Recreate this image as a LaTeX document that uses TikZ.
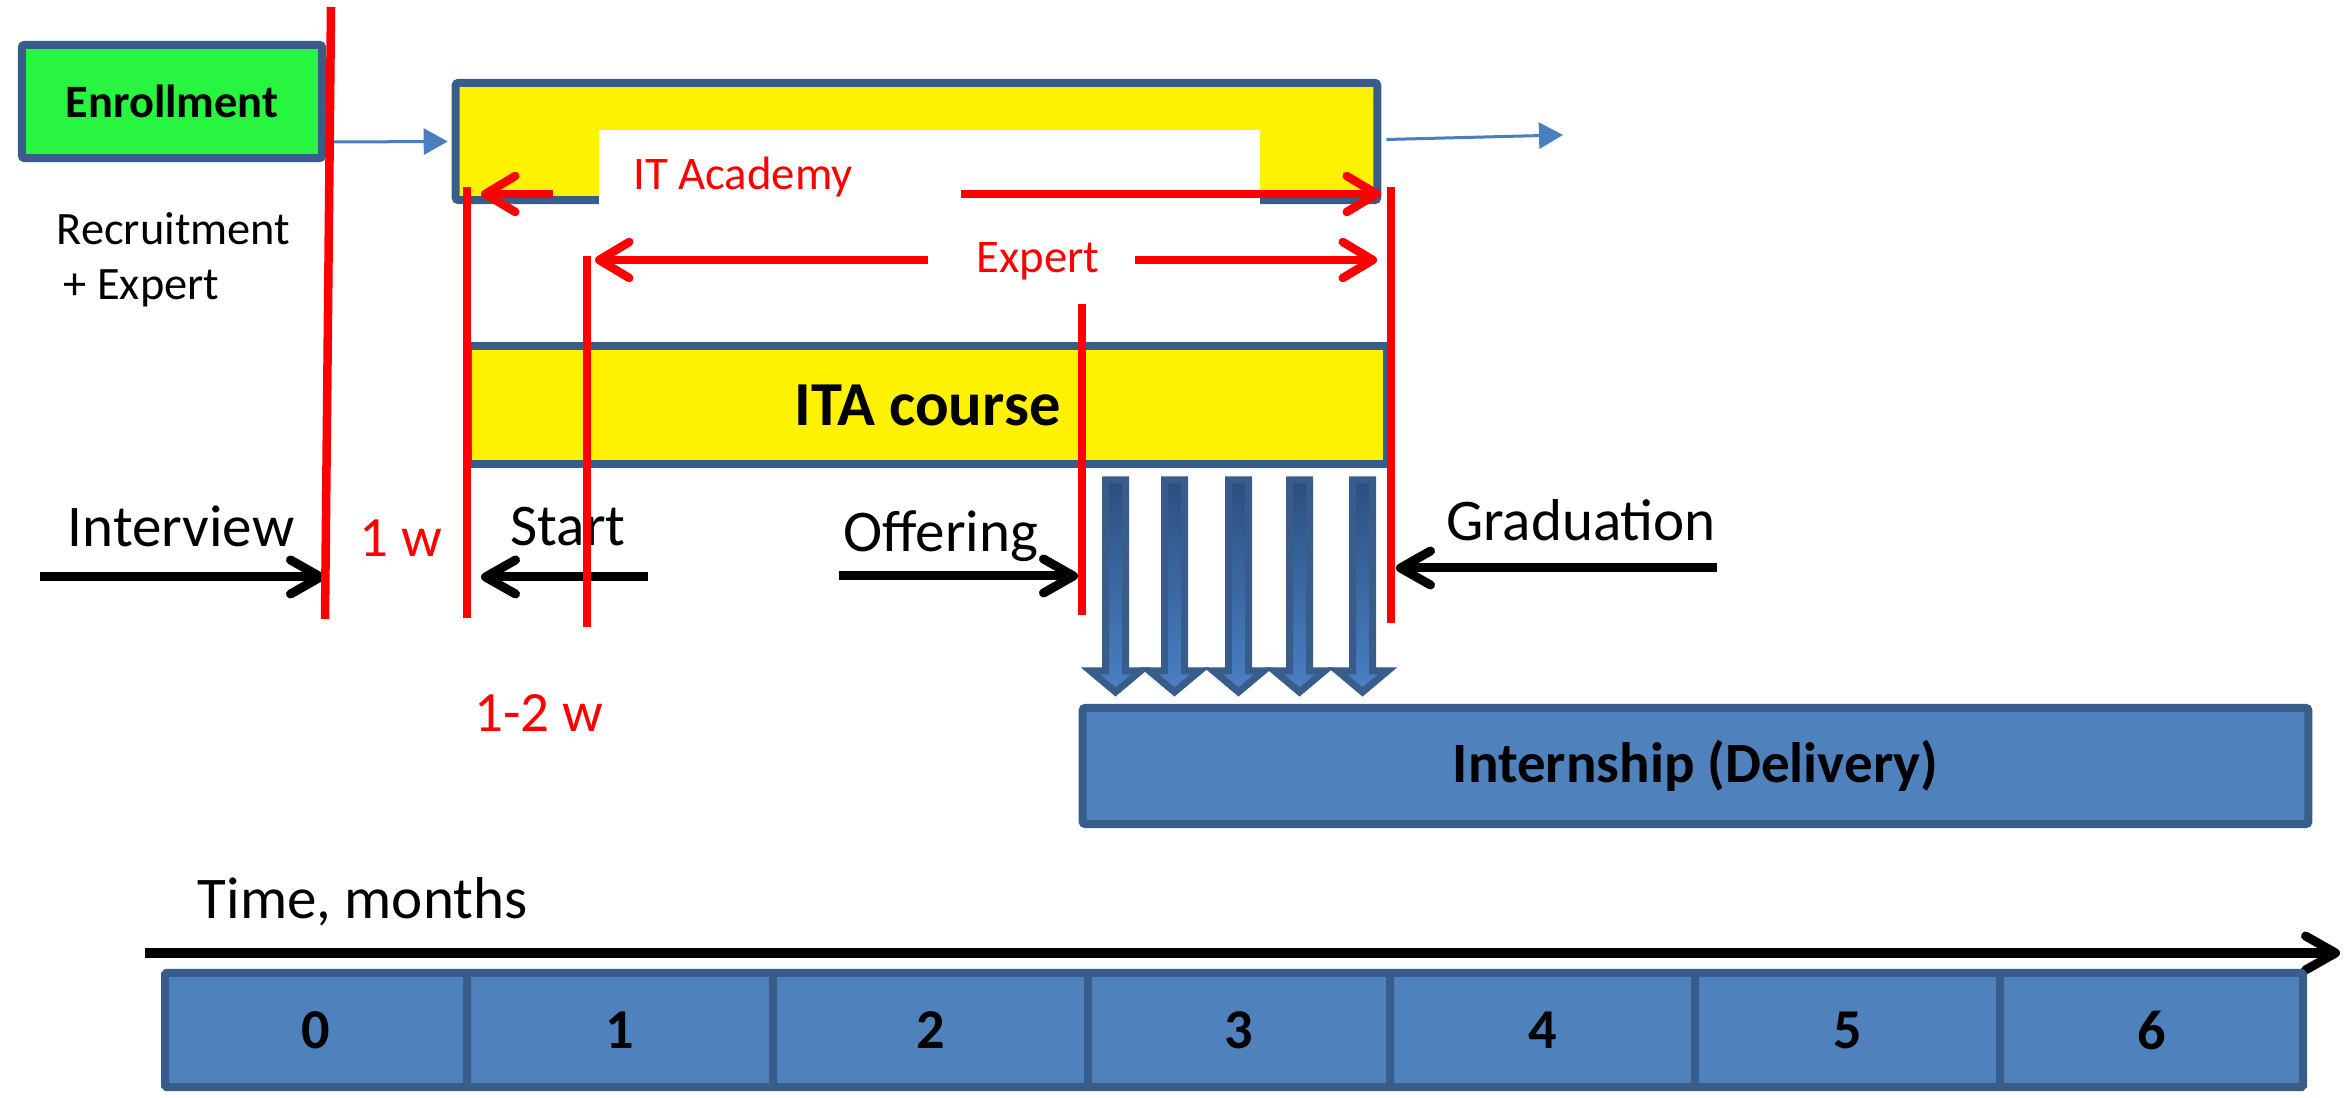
\documentclass[tikz,border=0pt]{standalone}
\usepackage{fontspec}
\setmainfont{Carlito}
\usetikzlibrary{arrows.meta}
\definecolor{bdblue}{HTML}{385D8A}
\definecolor{fillblue}{HTML}{4F81BD}
\definecolor{enrgreen}{HTML}{28F540}
\definecolor{lineblue}{HTML}{4A7EBF}
\definecolor{arrtop}{HTML}{2C4F80}
\definecolor{arrbot}{HTML}{4A80C4}
\begin{document}
\begin{tikzpicture}[x=0.01cm,y=-0.01cm,
  box/.style={draw=bdblue, line width=0.08cm, rounded corners=0.025cm, inner sep=0pt},
  redline/.style={draw=red, line width=0.085cm},
  redarrow/.style={draw=red, line width=0.085cm, -{Straight Barb[length=0.3cm,width=0.36cm,round]}},
  blackarrow/.style={draw=black, line width=0.09cm, -{Straight Barb[length=0.3cm,width=0.34cm,round]}},
  thinarrow/.style={draw=lineblue, line width=0.03cm, -{Triangle[length=0.24cm,width=0.26cm]}},
  lbl/.style={inner sep=0pt, anchor=base, font=\fontsize{16.8pt}{20pt}\selectfont},
  smalllbl/.style={inner sep=0pt, anchor=base west, font=\fontsize{13.2pt}{16pt}\selectfont},
  redlbl/.style={inner sep=0pt, anchor=base, text=red, font=\fontsize{13.3pt}{16pt}\selectfont},
  redwlbl/.style={inner sep=0pt, anchor=base, text=red, font=\fontsize{16.2pt}{20pt}\selectfont},
  downarrow/.style={draw=bdblue, line width=0.07cm, line join=miter, top color=arrtop, bottom color=arrbot},
]
\useasboundingbox (0,0) rectangle (2346,1098);

% Enrollment box
\node[box, fill=enrgreen, minimum width=3cm, minimum height=1.13cm,
      font=\bfseries\fontsize{13.2pt}{16pt}\selectfont] (enroll) at (172,101.5) {Enrollment};

% IT Academy frame
\node[box, fill=yellow, minimum width=9.21cm, minimum height=1.17cm] (itatop) at (916.5,141.5) {};
\fill[white] (599,130) rectangle (1260,210);
\node[redlbl] (itlbl) at (743,190) {IT Academy};

% ITA course bar
\node[box, rounded corners=0pt, fill=yellow, minimum width=9.19cm, minimum height=1.18cm,
      font=\bfseries\fontsize{17.8pt}{20pt}\selectfont] (itacourse) at (927.5,405) {ITA course};

% Internship
\node[box, fill=fillblue, minimum width=12.25cm, minimum height=1.16cm,
      font=\bfseries\fontsize{16.2pt}{20pt}\selectfont] (intern) at (1695.5,766) {Internship (Delivery)};

% thin blue arrows
\coordinate (e1) at (334,142);
\coordinate (out1) at (1563,135);
\draw[thinarrow] (e1) -- ([xshift=-0.04cm]itatop.west);
\draw[thinarrow] ([xshift=0.05cm,yshift=0.02cm]itatop.east) -- (out1);

% Recruitment text
\node[smalllbl] (recr) at (56,245) {Recruitment};
\node[smalllbl] (plusexp) at (63,300) {+ Expert};

% red duration arrows
\coordinate (ia1) at (553,194); \coordinate (ia1e) at (481,194);
\coordinate (ia2) at (961,194); \coordinate (ia2e) at (1381,194);
\draw[redarrow] (ia1) -- (ia1e);
\draw[redarrow] (ia2) -- (ia2e);
\node[redlbl] (explbl) at (1038,273) {Expert};
\coordinate (ex1) at (928,260); \coordinate (ex1e) at (595,260);
\coordinate (ex2) at (1135,260); \coordinate (ex2e) at (1377,260);
\draw[redarrow] (ex1) -- (ex1e);
\draw[redarrow] (ex2) -- (ex2e);

% down arrows
\foreach \c in {1115.5,1174.5,1238.5,1299.5,1362.5} {
  \draw[downarrow] (\c-10,480) -- (\c+10,480) -- (\c+10,671) -- (\c+25,671) -- (\c,692)
     -- (\c-25,671) -- (\c-10,671) -- cycle;
}

% black milestone arrows and labels
\node[lbl] (interview) at (181,547) {Interview};
\coordinate (iv1) at (40,577); \coordinate (iv2) at (325,577);
\draw[blackarrow] (iv1) -- (iv2);
\node[redwlbl] (onew) at (401,557) {1 w};
\node[lbl] (start) at (568,546) {Start};
\coordinate (st1) at (648,577); \coordinate (st2) at (481,577);
\draw[blackarrow] (st1) -- (st2);
\node[redwlbl] (onetwow) at (539,732) {1-2 w};
\node[lbl] (offering) at (941,552) {Offering};
\coordinate (of1) at (839,576); \coordinate (of2) at (1078,576);
\draw[blackarrow] (of1) -- (of2);
\node[lbl] (grad) at (1581,541) {Graduation};
\coordinate (gr1) at (1717,568); \coordinate (gr2) at (1396,568);
\draw[blackarrow] (gr1) -- (gr2);

% red vertical lines (on top)
\coordinate (l1t) at (331,7);   \coordinate (l1b) at (325,619);
\coordinate (l2t) at (467,187); \coordinate (l2b) at (467,618);
\coordinate (l3t) at (587,256); \coordinate (l3b) at (587,627);
\coordinate (l4t) at (1082,304);\coordinate (l4b) at (1082,615);
\coordinate (l5t) at (1391,187);\coordinate (l5b) at (1391,623);
\draw[redline] (l1t) -- (l1b);
\draw[redline] (l2t) -- (l2b);
\draw[redline] (l3t) -- (l3b);
\draw[redline] (l4t) -- (l4b);
\draw[redline] (l5t) -- (l5b);

% time axis
\node[lbl, anchor=base west] (timelbl) at (197,918) {Time, months};
\coordinate (ax1) at (145,953); \coordinate (ax2) at (2340,953);
\draw[blackarrow] (ax1) -- (ax2);

% month cells
\foreach \i/\cx/\w in {0/316/302, 1/620/306, 2/930.5/315, 3/1239/302, 4/1542.5/305, 5/1847.5/305, 6/2151.5/303} {
  \node[box, rounded corners=0.015cm, fill=fillblue, minimum width={\w*0.01cm}, minimum height=1.14cm,
        font=\bfseries\fontsize{16pt}{20pt}\selectfont] (m\i) at (\cx,1030) {\i};
}
\end{tikzpicture}
\end{document}
